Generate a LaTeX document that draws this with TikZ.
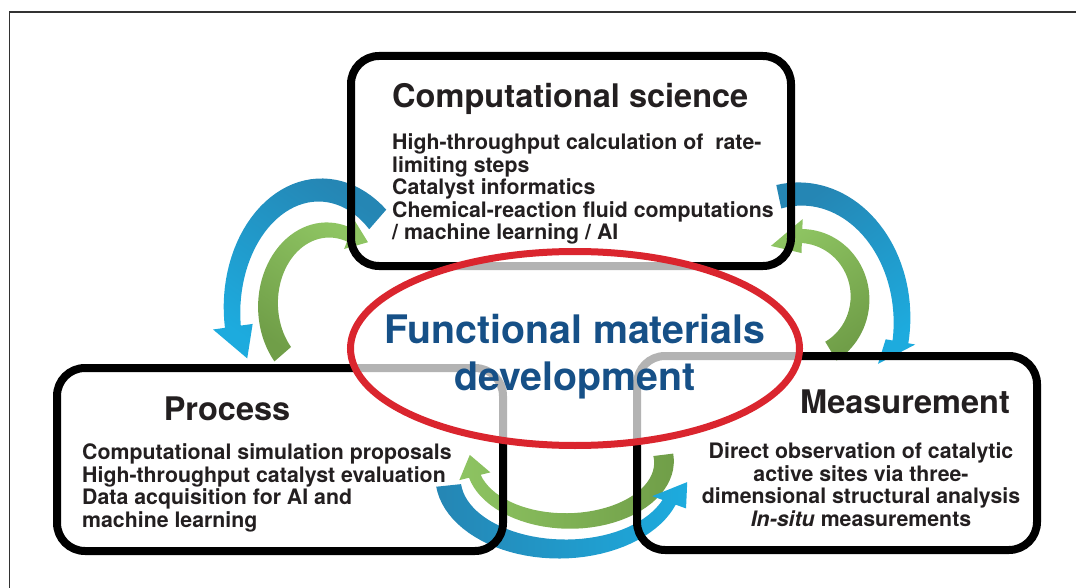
\documentclass[tikz,border=0pt]{standalone}
\usepackage{fontspec}
\setmainfont{TeX Gyre Heros}
\usetikzlibrary{shapes.geometric}

\definecolor{inkblack}{RGB}{35,31,32}
\definecolor{hubblue}{RGB}{22,80,135}
\definecolor{hubred}{RGB}{218,37,46}
\definecolor{flowdark}{RGB}{37,134,180}
\definecolor{flowlight}{RGB}{29,171,222}
\definecolor{leafdark}{RGB}{112,158,72}
\definecolor{leaflight}{RGB}{142,196,98}
\definecolor{framegrey}{RGB}{50,50,50}

% tapered curved arrow around the origin:
% rx, ry, tail angle, neck angle, tail half width, neck half width,
% head half width, tip angle, tip scale
\newcommand{\swoosh}[9]{%
  plot[variable=\t, domain={#3}:{#4}, samples=40]
    ({(#1+#5+(#6-#5)*(\t-(#3))/((#4)-(#3)))*cos(\t)},
     {(#2+#5+(#6-#5)*(\t-(#3))/((#4)-(#3)))*sin(\t)})
  -- ({(#1+#7)*cos(#4)}, {(#2+#7)*sin(#4)})
  -- ({#9*#1*cos(#8)}, {#9*#2*sin(#8)})
  -- ({(#1-#7)*cos(#4)}, {(#2-#7)*sin(#4)})
  -- plot[variable=\t, domain={#4}:{#3}, samples=40]
    ({(#1-#5-(#6-#5)*(\t-(#3))/((#4)-(#3)))*cos(\t)},
     {(#2-#5-(#6-#5)*(\t-(#3))/((#4)-(#3)))*sin(\t)})
  -- cycle}

\tikzset{
  panel/.style={rectangle, draw=black, line width=8pt, rounded corners=28pt, inner sep=0pt},
  hub/.style={ellipse, draw=hubred, line width=7pt, fill=white, fill opacity=0.7,
    minimum width=449pt, minimum height=194pt},
  heading/.style={font=\fontsize{32.5}{36}\selectfont\bfseries, text=inkblack, inner sep=0pt},
  items/.style={font=\fontsize{21.3}{22.5}\selectfont\bfseries, text=inkblack, inner sep=0pt},
  hubtext/.style={font=\fontsize{39.3}{47}\selectfont\bfseries, text=hubblue, align=center, inner sep=0pt},
  bluearc/.style={top color=flowdark, bottom color=flowlight},
  greenarc/.style={top color=leaflight, bottom color=leafdark}
}

\begin{document}
\begin{tikzpicture}[x=1pt, y=-1pt]
  \useasboundingbox (0,0) rectangle (1076,588);
  \draw[framegrey, line width=1.3pt] (1076,12) -- (9.5,12) -- (9.5,588);

  % arrows between the three fields
  \begin{scope}[shift={(320,310)}]
    \shade[bluearc, shading angle=-35] \swoosh{88}{120}{-49}{-188}{13}{8}{20}{-206}{0.92};
  \end{scope}
  \begin{scope}[shift={(328,305)}]
    \shade[greenarc, shading angle=-35] \swoosh{60}{75}{139}{291}{11}{7}{15}{308.5}{1.07};
  \end{scope}
  \begin{scope}[shift={(800,320)}]
    \shade[bluearc, shading angle=35] \swoosh{102}{126}{-102}{10}{12}{8}{15}{24.5}{0.84};
  \end{scope}
  \begin{scope}[shift={(800,298)}]
    \shade[greenarc, shading angle=35] \swoosh{60}{62}{59}{-88}{11}{7}{17}{-120}{0.97};
  \end{scope}
  \begin{scope}[shift={(568,462)}]
    \shade[greenarc, shading angle=90] \swoosh{96}{59}{-7}{166}{10}{6}{16}{186.7}{1.03};
  \end{scope}
  \begin{scope}[shift={(562,478)}]
    \shade[bluearc, shading angle=90] \swoosh{114}{71}{174}{20}{12.5}{7}{18}{3}{1.1};
  \end{scope}

  % the three fields
  \node[panel, minimum width=440pt, minimum height=210pt] (comp) at (571,161) {};
  \node[panel, minimum width=446pt, minimum height=183pt] (proc) at (280,459.5) {};
  \node[panel, minimum width=400pt, minimum height=194pt] (meas) at (837,453) {};

  % centre
  \node[hub] (core) at (575,348.5) {};
  \node[hubtext] (coretext) at (575,356.5) {Functional materials\\development};

  % texts, multi-line ones sit on the baseline of their last line
  \node[heading, anchor=base west] (comptitle) at (392,108) {Computational science};
  \node[items, anchor=base west, align=left] (compitems) at (392,240)
    {High-throughput calculation of\ \ rate-\\limiting steps\\Catalyst informatics\\
     Chemical-reaction fluid computations\\/ machine learning / AI};

  \node[heading, anchor=base] (proctitle) at (227,420) {Process};
  \node[items, anchor=base west, align=left] (procitems) at (82,527)
    {Computational simulation proposals\\High-throughput catalyst evaluation\\
     Data acquisition for AI and\\machine learning};

  \node[heading, anchor=base west] (meastitle) at (800,413) {Measurement};
  \node[items, anchor=base, align=center] (measitems) at (861,526)
    {Direct observation of catalytic\\active sites via three-\\
     dimensional structural analysis\\\textit{In-situ} measurements};
\end{tikzpicture}
\end{document}
